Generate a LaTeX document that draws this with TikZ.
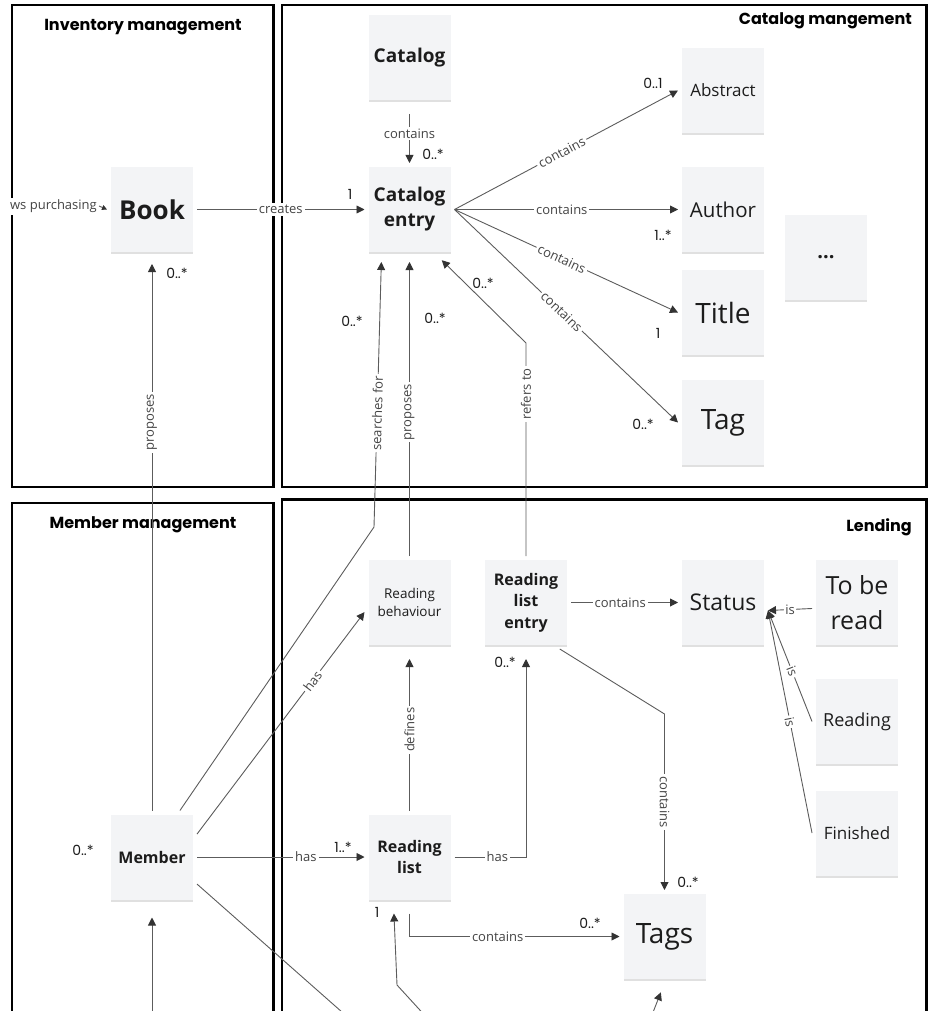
\documentclass[tikz,border=0pt]{standalone}
\usepackage{fontspec}
\setmainfont{Open Sans}
\newfontfamily\headfont{Poppins}
\usetikzlibrary{arrows.meta,shadows}
\definecolor{notefill}{HTML}{F3F4F6}
\definecolor{wiregray}{HTML}{5C5C5C}
\definecolor{tipgray}{HTML}{333333}
\definecolor{ink}{HTML}{1C1C1C}
\definecolor{lblgray}{HTML}{444444}
\tikzset{
  note/.style={fill=notefill, minimum width=82pt, minimum height=85pt, inner sep=2pt,
    outer sep=4pt, align=center, text=ink,
    drop shadow={shadow xshift=0pt, shadow yshift=-2pt, opacity=0.12, fill=black}},
  frame/.style={draw=black, line width=2.2pt},
  head/.style={inner sep=0pt, text=black, font=\headfont\bfseries\fontsize{16}{19}\selectfont},
  lbl/.style={fill=white, inner sep=2pt, text=lblgray, font=\fontsize{13}{15}\selectfont},
  mult/.style={inner sep=0pt, text=ink, font=\headfont\fontsize{14}{16}\selectfont},
  wire/.style={draw=wiregray, line width=0.9pt}
}
\begin{document}
\begin{tikzpicture}[x=1pt,y=-1pt,>={Triangle[length=8pt,width=8pt,color=tipgray]}]
        \useasboundingbox (0,0) rectangle (928,1011);
        \draw [frame] (12,5) rectangle (273.5,487);
        \draw [frame] (282,5) rectangle (926.5,487);
        \draw [frame] (12,503) rectangle (273.5,1030);
        \draw [frame] (282,499.5) rectangle (926.5,1030);
        \node [head] (invtitle) at (143,27) {Inventory management};
        \node [head, anchor=east] (cattitle) at (912,21) {Catalog mangement};
        \node [head] (memtitle) at (143,525) {Member management};
        \node [head, anchor=east] (lendtitle) at (912,527) {Lending};

        \node [note, font=\fontsize{19}{25}\selectfont\bfseries] (catalog) at (409.5,57.5) {Catalog};
        \node [note, font=\fontsize{19}{25}\selectfont\bfseries] (entry) at (409.5,209.5) {Catalog\\entry};
        \node [note, font=\fontsize{26}{30}\selectfont\bfseries] (book) at (152,209.5) {Book};
        \node [note, font=\fontsize{17}{20}\selectfont] (abstract) at (723,90.5) {Abstract};
        \node [note, font=\fontsize{20.5}{24}\selectfont] (author) at (723,209.5) {Author};
        \node [note, font=\fontsize{20}{24}\selectfont\bfseries] (more) at (826,257.5) {...};
        \node [note, font=\fontsize{28}{32}\selectfont] (title) at (723,312.5) {Title};
        \node [note, font=\fontsize{28}{32}\selectfont] (tag) at (723,422.5) {Tag};
        \node [note, font=\fontsize{13.5}{18}\selectfont] (behaviour) at (409.5,602.5) {Reading\\behaviour};
        \node [note, font=\fontsize{16}{21.5}\selectfont\bfseries] (listentry) at (526,602.5) {Reading\\list\\entry};
        \node [note, font=\fontsize{23}{27}\selectfont] (status) at (723,602.5) {Status};
        \node [note, font=\fontsize{25}{35}\selectfont] (toberead) at (857,602.5) {To be\\read};
        \node [note, font=\fontsize{18}{22}\selectfont] (reading) at (857,721.5) {Reading};
        \node [note, font=\fontsize{17}{21}\selectfont] (finished) at (857,833) {Finished};
        \node [note, font=\fontsize{16}{21}\selectfont\bfseries] (member) at (152,857) {Member};
        \node [note, font=\fontsize{16}{21}\selectfont\bfseries] (readlist) at (409.5,857) {Reading\\list};
        \node [note, font=\fontsize{28}{32}\selectfont] (tags) at (664.5,936.5) {Tags};

        \node [lbl, anchor=east] (purchasing) at (99,206) {ws purchasing};
        \draw [wire, -{Triangle[length=5pt,width=5pt,color=tipgray]}] (purchasing.east) -- (book.west);
        \draw [wire, ->] (book.east) -- node [lbl, pos=0.5] {creates} (entry.west);
        \draw [wire, ->, shorten <=10pt] (catalog.south) -- node [lbl] {contains} (entry.north);
        \draw [wire, ->] (entry.east) -- node [lbl, sloped, pos=0.48] {contains} (abstract.west);
        \draw [wire, ->] (entry.east) -- node [lbl, pos=0.48] {contains} (author.west);
        \draw [wire, ->] (entry.east) -- node [lbl, sloped, pos=0.48] {contains} (title.west);
        \draw [wire, ->] (entry.east) -- node [lbl, sloped, pos=0.48] {contains} (tag.west);

        \draw [wire, ->, shorten >=8pt] (member.north) -- node [lbl, sloped, pos=0.7] {proposes} (book.south);
        \draw [wire, ->, shorten >=6pt] (member.59) -- (374,527) -- node [lbl, sloped, pos=0.42] {searches for} ([xshift=-28pt]entry.south);
        \draw [wire, ->, shorten >=6pt] (behaviour.north) -- node [lbl, sloped, pos=0.48] {proposes} (entry.south);
        \draw [wire, ->, shorten >=6pt] (listentry.north) -- node [lbl, sloped, pos=0.76] {refers to} ++(0,-213) -- ([xshift=28pt]entry.south);
        \draw [wire, ->] (member.27) -- node [lbl, sloped, pos=0.69] {has} (behaviour.192);
        \draw [wire, ->, shorten >=10pt] (readlist.north) -- node [lbl, sloped] {defines} (behaviour.south);
        \draw [wire, ->] (member.east) -- node [lbl, pos=0.65] {has} (readlist.west);
        \draw [wire, ->, shorten >=10pt] (readlist.east) -| node [lbl, pos=0.3] {has} (listentry.south);
        \draw [wire, ->] (listentry.east) -- node [lbl, pos=0.46] {contains} (status.west);
        \draw [wire, ->] (listentry.-54) -- (664.5,714) -- node [lbl, sloped] {contains} (tags.north);
        \draw [wire, ->, shorten <=10pt] (readlist.south) |- node [lbl, pos=0.71] {contains} (tags.west);
        \draw [wire, ->] ([yshift=-6pt]toberead.west) -- node [lbl, inner sep=1.5pt] {is} ([yshift=-8pt]status.east);
        \draw [wire, ->] (reading.west) -- node [lbl, sloped, inner sep=1.5pt, pos=0.45] {is} ([yshift=-8pt]status.east);
        \draw [wire, ->] (finished.west) -- node [lbl, sloped, inner sep=1.5pt] {is} ([yshift=-8pt]status.east);

        \coordinate (memberin) at (152,1020);
        \coordinate (memberout) at (351,1020);
        \coordinate (listin) at (429,1020);
        \coordinate (tagsin) at (650,1020);
        \draw [wire, ->, shorten >=14pt] (memberin) -- (member.south);
        \draw [wire] (member.-31) -- (memberout);
        \draw [wire, ->, shorten >=10pt] (listin) -- (397,985) -- ([xshift=-16pt]readlist.south);
        \draw [wire, ->, shorten >=10pt] (tagsin) -- (tags.south);

        \node [mult] (m1) at (350,194) {1};
        \node [mult] (m2) at (433,154) {0..*};
        \node [mult] (m3) at (177,273) {0..*};
        \node [mult] (m4) at (653,83) {0..1};
        \node [mult] (m5) at (663,235) {1..*};
        \node [mult] (m6) at (658,333) {1};
        \node [mult] (m7) at (643,424) {0..*};
        \node [mult] (m8) at (352,321) {0..*};
        \node [mult] (m9) at (435,318) {0..*};
        \node [mult] (m10) at (483,283) {0..*};
        \node [mult] (m11) at (505,662) {0..*};
        \node [mult] (m12) at (83,850) {0..*};
        \node [mult] (m13) at (343,847) {1..*};
        \node [mult] (m14) at (377,912) {1};
        \node [mult] (m15) at (688,882) {0..*};
        \node [mult] (m16) at (590,923) {0..*};
    \end{tikzpicture}
\end{document}
